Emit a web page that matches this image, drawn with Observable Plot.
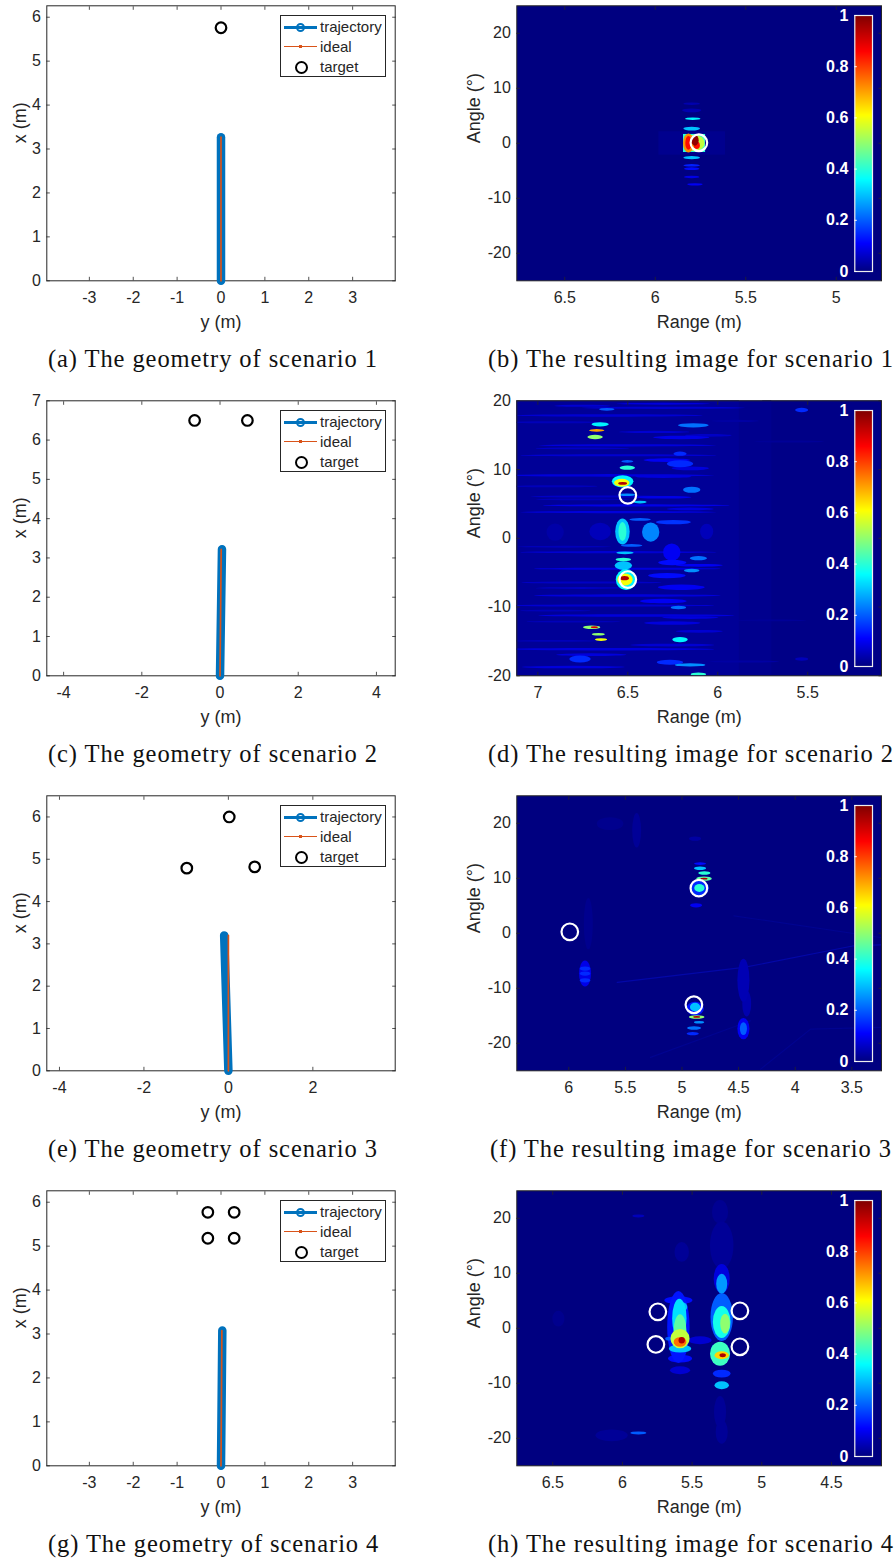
<!DOCTYPE html>
<html><head><meta charset="utf-8">
<style>
html,body{margin:0;padding:0;background:#fff}
#page{position:relative;width:894px;height:1558px;overflow:hidden;background:#fff}
#page>svg,#page>div{position:absolute}
g[aria-label="spot"]{filter:blur(1.4px)}
g[aria-label="soft"]{filter:blur(2.4px)}
.cap{font-family:"Liberation Serif",serif;font-size:24.5px;letter-spacing:.92px;color:#111;white-space:nowrap;line-height:26px}
.leg{box-sizing:border-box;width:106px;height:62px;border:1px solid #262626;background:#fff;font:15px "Liberation Sans",sans-serif;color:#262626}
.leg span{position:absolute;left:39px;line-height:18px}
.leg i{position:absolute;display:block}
</style>
<script src="https://cdn.jsdelivr.net/npm/d3@7"></script>
<script src="https://cdn.jsdelivr.net/npm/@observablehq/plot@0.6"></script>
</head><body><div id="page"></div>
<script>
// ---- geometry panels: [y, x]
const trajA=[[0,0],[0,3.27]], idealA=[[0,0],[0,3.27]], targetsA=[[0,5.76]];
const trajC=[[0,0],[0.05,3.22]], idealC=[[0,0],[0.03,3.22]], targetsC=[[-0.65,6.5],[0.7,6.5]];
const trajE=[[0,0],[-0.1,3.2]], idealE=[[0,0],[0,3.2]], targetsE=[[0.02,6.0],[-0.985,4.79],[0.623,4.82]];
const trajG=[[0,0],[0.03,3.08]], idealG=[[0,0],[0.02,3.08]], targetsG=[[-0.3,5.77],[0.3,5.77],[-0.3,5.18],[0.3,5.18]];
const ticksGeoX=[-3,-2,-1,0,1,2,3], ticksC=[-4,-2,0,2,4], ticksE=[-4,-2,0,2];
const ticks6=[0,1,2,3,4,5,6], ticks7=[0,1,2,3,4,5,6,7];
// ---- image panels: spots are [range, angle, level, half range, half angle]
const boxB=[[5.796,-0.03,0.012,0.184,2.12],[5.783,-0.03,0.4,0.061,1.64]];
const spotsB=[[5.783,-0.03,0.55,0.05,1.3],[5.814,-0.03,0.72,0.026,1.5],[5.814,-0.03,0.85,0.015,1.09],[5.778,0.46,0.98,0.018,0.85],[5.768,-0.45,0.85,0.015,0.6],[5.741,-0.03,0.45,0.015,1.09],[5.796,2.58,0.3,0.04,0.3],[5.79,4.39,0.35,0.037,0.2],[5.796,-2.7,0.3,0.04,0.25],[5.796,-4.09,0.14,0.04,0.2],[5.796,-4.7,0.12,0.037,0.22],[5.796,-6.21,0.09,0.037,0.2],[5.778,-7.55,0.1,0.037,0.18],[5.796,7.12,0.04,0.04,0.2],[5.796,5.91,0.04,0.046,0.3]];
const circlesB=[[5.759,0.1]];
const boxD=[[6.5,0,0.02,0.62,20],[5.9,0,0.012,0.2,20],[5.42,0,0.006,0.33,20]];
const spotsD=[[6.526,7.91,0.95,0.019,0.15],[6.531,8.01,0.6,0.033,0.44],[6.526,8.21,0.35,0.046,0.68],[6.5,10.2,0.4,0.033,0.24],[6.5,11.12,0.2,0.026,0.15],[6.516,-5.87,0.95,0.019,0.24],[6.513,-6.07,0.6,0.033,0.68],[6.507,-6.07,0.35,0.044,1.17],[6.522,-4.03,0.3,0.037,0.49],[6.522,-3.15,0.4,0.033,0.19],[6.513,-2.18,0.3,0.037,0.15],[6.476,-1.11,0.2,0.046,0.15],[6.527,0.92,0.3,0.031,1.46],[6.527,0.92,0.4,0.017,1.07],[6.37,0.83,0.24,0.037,1.07],[6.059,0.92,0.05,0.028,0.87],[6.901,0.83,0.035,0.037,0.97],[6.651,0.92,0.05,0.046,0.97],[6.651,16.51,0.35,0.037,0.24],[6.67,15.63,0.7,0.033,0.15],[6.679,14.66,0.5,0.033,0.24],[6.614,18.69,0.2,0.033,0.15],[6.698,-13.01,0.5,0.037,0.19],[6.683,-13.01,0.9,0.015,0.1],[6.661,-14.03,0.5,0.028,0.15],[6.646,-14.8,0.6,0.026,0.15],[6.503,6.26,0.25,0.037,0.15],[6.142,6.99,0.22,0.037,0.34],[6.207,12.23,0.15,0.028,0.24],[6.207,10.78,0.15,0.056,0.39],[6.133,16.36,0.22,0.065,0.24],[6.429,5.2,0.3,0.028,0.15],[6.207,-14.8,0.35,0.033,0.29],[6.216,-10.14,0.22,0.033,0.19],[6.142,-4.76,0.25,0.033,0.19],[6.105,-2.96,0.22,0.037,0.24],[6.253,-2.09,0.1,0.037,0.97],[6.244,2.28,0.16,0.074,0.24],[6.429,2.67,0.2,0.046,0.15],[6.105,-19.85,0.4,0.033,0.19],[6.151,-18.49,0.25,0.065,0.19],[6.263,-18.1,0.15,0.056,0.29],[6.763,-17.62,0.15,0.046,0.39],[5.531,18.59,0.15,0.028,0.24],[5.531,-17.62,0.05,0.028,0.19],
[6.6,17.8,0.07,0.4,0.14],[6.5,13.45,0.08,0.38,0.12],[6.55,12,0.07,0.42,0.12],[6.6,9.08,0.08,0.45,0.14],[6.45,4.71,0.09,0.4,0.12],[6.55,3.74,0.08,0.42,0.12],[6.5,-8.4,0.08,0.4,0.14],[6.6,-9.85,0.07,0.45,0.12],[6.45,-11.3,0.08,0.42,0.14],[6.6,-16.2,0.08,0.45,0.14],[6.55,-2.09,0.07,0.42,0.12],[6.5,-4.5,0.08,0.4,0.12],[6.65,6,0.06,0.3,0.12],[6.7,-6.5,0.06,0.3,0.12],[6.8,-18.8,0.08,0.22,0.14],[6.3,18.9,0.07,0.35,0.12],
[6.75,19.2,0.07,0.12,0.12],[6.3,19.5,0.08,0.2,0.1],[6.9,16.8,0.05,0.2,0.12],[6.35,15.4,0.07,0.15,0.12],[6.2,14.6,0.09,0.12,0.2],[6.05,14.9,0.06,0.1,0.15],[6.75,13,0.06,0.2,0.1],[6.28,11.3,0.1,0.1,0.2],[6.15,10.1,0.08,0.08,0.2],[6.3,8.9,0.08,0.12,0.15],[6.9,7.5,0.05,0.18,0.12],[6.75,5.6,0.05,0.2,0.1],[6.3,5.9,0.09,0.12,0.15],[6.15,4.2,0.08,0.1,0.15],[6.85,-1.3,0.05,0.2,0.1],[6.25,-3.6,0.12,0.06,0.3],[6.1,-4,0.1,0.1,0.15],[6.28,-5.5,0.12,0.08,0.3],[6.75,-7.3,0.06,0.2,0.1],[6.2,-7.2,0.1,0.1,0.3],[6.3,-9.2,0.1,0.1,0.25],[6.9,-10.6,0.05,0.15,0.1],[6.15,-11.6,0.08,0.12,0.15],[6.25,-12.4,0.08,0.12,0.2],[6.8,-12.2,0.05,0.2,0.1],[6.25,-15.6,0.07,0.18,0.15],[6.1,-13.6,0.07,0.1,0.15],[6.9,-15,0.05,0.18,0.1],[6.7,-17,0.08,0.15,0.15],[5.85,-18,0.03,0.15,0.12],[5.7,-12,0.02,0.15,0.1],[5.6,14,0.02,0.15,0.12],[5.9,17,0.03,0.1,0.12]];
const circlesD=[[6.5,6.25],[6.5,-6.0]];
const spotsF=[[4.801,9.85,0.95,0.024,0.12],[4.801,9.85,0.45,0.053,0.3],[4.798,10.88,0.4,0.041,0.24],[4.836,11.73,0.3,0.041,0.24],[4.836,12.58,0.12,0.041,0.18],[4.842,8.15,0.4,0.035,0.55],[4.842,8.15,0.15,0.065,1.09],[4.871,5,0.1,0.041,0.3],[4.88,17.12,0.03,0.041,0.3],[4.866,-15.3,0.95,0.024,0.12],[4.866,-15.3,0.5,0.053,0.24],[4.88,-13.5,0.3,0.035,0.6],[4.88,-13.79,0.13,0.059,0.97],[4.845,-16.27,0.25,0.035,0.18],[4.889,-17.3,0.22,0.047,0.24],[4.901,-18.33,0.15,0.041,0.24],[5.852,-7.42,0.09,0.041,1.82],[5.852,-6.51,0.15,0.035,0.3],[5.852,-7.42,0.15,0.035,0.3],[5.852,-8.64,0.15,0.035,0.3],[4.453,-17.42,0.1,0.041,1.5],[4.453,-17.42,0.2,0.024,0.9],[4.453,-8.64,0.045,0.041,3],[4.424,-12.88,0.04,0.03,1.8],[5.396,18.64,0.02,0.03,2.4],[5.631,19.85,0.012,0.09,0.9],[5.823,1.67,0.012,0.03,3.6]];
const ridgesMainF=[[5.572,-8.94,"a"],[4.453,-6.21,"a"],[3.482,-2.27,"a"],[3.246,-2.09,"a"]];
const ridgesFaintF=[[4.542,3.18,"b"],[3.246,-0.76,"b"],[4.306,-24.7,"c"],[3.864,-17.42,"c"],[3.246,-17.12,"c"],[5.278,-22.57,"d"],[4.394,-15.91,"d"]];
const circlesF=[[5.991,0.27],[4.851,8.21],[4.895,-12.99]];
const spotsH=[[5.571,-2.27,0.95,0.019,0.48],[5.583,-2.58,0.75,0.038,0.73],[5.583,-1.97,0.55,0.057,1.45],[5.583,-0.45,0.45,0.038,2.42],[5.588,1.67,0.33,0.043,3],[5.571,3.79,0.3,0.033,0.73],[5.595,0.15,0.13,0.067,5.45],[5.583,-3.79,0.3,0.067,0.6],[5.595,5,0.12,0.084,0.6],[5.583,-5.6,0.12,0.072,0.6],[5.583,-7.73,0.07,0.06,0.6],[5.571,13.79,0.02,0.043,1.5],[5.655,-1.97,0.2,0.029,0.3],[5.277,-5,0.95,0.019,0.3],[5.284,-5,0.65,0.043,0.6],[5.296,-4.7,0.42,0.06,1.82],[5.308,-3.79,0.3,0.043,0.73],[5.284,1.06,0.38,0.053,2.42],[5.26,0.76,0.5,0.029,1.5],[5.284,1.97,0.2,0.067,3.64],[5.284,8.03,0.26,0.033,1.5],[5.296,4.7,0.18,0.038,0.6],[5.284,-10.45,0.3,0.043,0.6],[5.284,-8.33,0.15,0.053,0.6],[5.284,8.94,0.08,0.048,2.2],[5.284,15,0.02,0.07,3.6],[5.296,21.06,0.016,0.048,1.8],[5.296,-15.3,0.02,0.036,2.4],[5.284,-18.94,0.02,0.036,1.8],[5.44,-2.27,0.07,0.07,0.6],[5.882,-19.12,0.2,0.048,0.24],[6.074,-19.55,0.02,0.096,0.9],[5.882,20.33,0.05,0.036,0.24],[6.456,1.67,0.012,0.036,1.2]];
const circlesH=[[5.746,3.0],[5.76,-2.94],[5.157,3.18],[5.157,-3.36]];
const ticksAngle25=[-20,-10,0,10,20], ticksAngle20=[-20,-10,0,10,20];
const ticksRangeB=[6.5,6,5.5,5], ticksRangeD=[7,6.5,6,5.5], ticksRangeF=[6,5.5,5,4.5,4,3.5], ticksRangeH=[6.5,6,5.5,5,4.5];
const cbTicks=[0,0.2,0.4,0.6,0.8,1];
const jetStops=[0,0.11,0.36,0.61,0.86,1], jetColors=["#000080","#0000ff","#00ffff","#ffff00","#ff0000","#800000"];
const captions=[["(a) The geometry of scenario 1",48,0],["(b) The resulting image for scenario 1",488,0],["(c) The geometry of scenario 2",48,395],["(d) The resulting image for scenario 2",488,395],["(e) The geometry of scenario 3",48,790],["(f) The resulting image for scenario 3",490,790],["(g) The geometry of scenario 4",48,1185],["(h) The resulting image for scenario 4",488,1185]];

const page=document.getElementById("page");
const INK="#262626", FF='"Liberation Sans",sans-serif';
const jet={type:"linear",domain:jetStops,range:jetColors,interpolate:"rgb"};
const sty={fontFamily:FF,background:"transparent",overflow:"visible"};
function place(n,l,t){n.style.left=l+"px";n.style.top=t+"px";page.appendChild(n);return n;}
function frameAxes(xt,yt,xl,yl,off){
  const ax={tickSize:-3.5,stroke:INK,fill:INK,label:null,fontSize:16,tickFormat:String,strokeWidth:0.8};
  const blank={...ax,tickFormat:()=>""};
  return [
    Plot.frame({stroke:INK,strokeWidth:1}),
    Plot.axisX(xt,{...ax,anchor:"bottom",tickPadding:14.5}),
    Plot.axisX(xt,{...blank,anchor:"top"}),
    Plot.axisY(yt,{...ax,anchor:"left",tickPadding:9.5}),
    Plot.axisY(yt,{...blank,anchor:"right"}),
    Plot.text([xl],{frameAnchor:"bottom",dy:47,fontSize:18,fill:INK}),
    Plot.text([yl],{frameAnchor:"left",dx:off,rotate:-90,fontSize:18,fill:INK})
  ];
}
function geo(top,xd,yd,xt,yt,traj,ideal,targets){
  const svg=Plot.plot({width:447,height:345,marginLeft:46.3,marginRight:52.3,marginTop:5.3,marginBottom:64.7,
    style:sty,x:{domain:xd},y:{domain:yd},
    marks:[
      ...frameAxes(xt,yt,"y (m)","x (m)",-27),
      Plot.line(traj,{x:d=>d[0],y:d=>d[1],stroke:"#0072BD",strokeWidth:8.5,strokeLinecap:"round"}),
      Plot.line(ideal,{x:d=>d[0],y:d=>d[1],stroke:"#D95319",strokeWidth:1.7}),
      Plot.dot(targets,{x:d=>d[0],y:d=>d[1],r:5.3,stroke:"#000",strokeWidth:2.2,fill:"none"})
    ]});
  place(svg,0,top);
  const L=document.createElement("div");L.className="leg";
  L.innerHTML='<i style="left:3px;top:10px;width:33px;height:2.5px;background:#0072BD"></i>'+
    '<i style="left:15px;top:7px;width:5px;height:5px;border:2px solid #0072BD;border-radius:50%"></i>'+
    '<i style="left:3px;top:30px;width:33px;height:1px;background:#D95319"></i>'+
    '<i style="left:18px;top:29px;width:3px;height:3px;background:#D95319"></i>'+
    '<i style="left:14px;top:45px;width:9px;height:9px;border:2.2px solid #000;border-radius:50%"></i>'+
    '<span style="top:2px">trajectory</span><span style="top:22px">ideal</span><span style="top:42px">target</span>';
  place(L,280,top+15);
}
const spotRect=(arr,r,g,label)=>Plot.rect(d3.sort(arr,d=>d[2]),{x1:d=>d[0]+d[3]*g,x2:d=>d[0]-d[3]*g,y1:d=>d[1]-d[4]*g,y2:d=>d[1]+d[4]*g,fill:d=>d[2],rx:r,ry:r,clip:true,ariaLabel:label});
const ridgeLine=(arr,op)=>Plot.line(arr,{x:d=>d[0],y:d=>d[1],z:d=>d[2],stroke:"#0a14f0",strokeWidth:1.2,strokeOpacity:op,clip:true});
function heat(top,xd,yd,xt,yt,boxes,spots,circles,ridgeMarks,grow,label){
  const svg=Plot.plot({width:447,height:345,marginLeft:69.3,marginRight:13,marginTop:5.3,marginBottom:64.7,
    style:sty,x:{domain:xd},y:{domain:yd},color:jet,
    marks:[
      Plot.frame({fill:jetColors[0],stroke:"none"}),
      spotRect(boxes,0,1,"spot"),
      ...ridgeMarks,
      spotRect(spots,200,grow,label),
      Plot.dot(circles,{x:d=>d[0],y:d=>d[1],r:8.3,stroke:"#fff",strokeWidth:2.2,fill:"none"}),
      ...frameAxes(xt,yt,"Range (m)","Angle (\u00b0)",-43)
    ]});
  place(svg,447,top);
  const bar=Plot.plot({width:94,height:271,marginLeft:54.3,marginRight:22,marginTop:10,marginBottom:5,
    style:sty,x:{domain:[0,1],axis:null},y:{domain:[0,1],axis:null},color:jet,
    marks:[
      Plot.raster({x1:0,x2:1,y1:0,y2:1,fill:(x,y)=>y,pixelSize:1}),
      Plot.frame({stroke:"#eee",strokeWidth:1.2}),
      Plot.axisY(cbTicks,{anchor:"left",tickSize:-2.5,tickPadding:9,stroke:"#fff",fill:"#fff",fontSize:16,fontWeight:"bold",tickFormat:String,label:null})
    ]});
  place(bar,800,top+5);
}
geo(0,[-3.97,3.97],[0,6.26],ticksGeoX,ticks6,trajA,idealA,targetsA);
heat(0,[6.765,4.75],[-25,25],ticksRangeB,ticksAngle25,boxB,spotsB,circlesB,[],1.15,"spot");
geo(395,[-4.43,4.48],[0,7],ticksC,ticks7,trajC,idealC,targetsC);
heat(395,[7.117,5.09],[-20,20],ticksRangeD,ticksAngle20,boxD,spotsD,circlesD,[],1.3,"spot");
geo(790,[-4.3,3.95],[0,6.5],ticksE,ticks6,trajE,idealE,targetsE);
heat(790,[6.459,3.238],[-25,25],ticksRangeF,ticksAngle25,[],spotsF,circlesF,[ridgeLine(ridgesMainF,.35),ridgeLine(ridgesFaintF,.14)],1.3,"spot");
geo(1185,[-3.97,3.97],[0,6.26],ticksGeoX,ticks6,trajG,idealG,targetsG);
heat(1185,[6.758,4.141],[-25,25],ticksRangeH,ticksAngle25,[],spotsH,circlesH,[],1.2,"soft");
for(const [t,l,o] of captions){const c=document.createElement("div");c.className="cap";c.textContent=t;place(c,l,o+346);}
</script></body></html>
